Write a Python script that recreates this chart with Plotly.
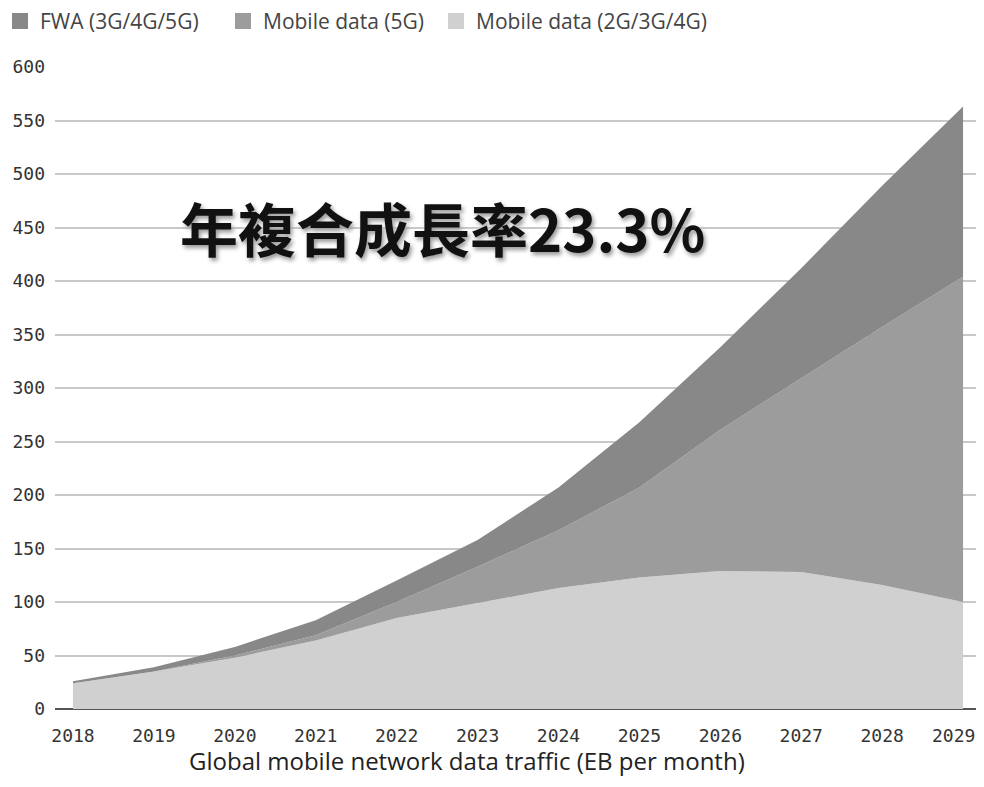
import plotly.graph_objects as go

years = [2018, 2019, 2020, 2021, 2022, 2023, 2024, 2025, 2026, 2027, 2028, 2029]
mobile_legacy = [24, 35, 48, 64, 85, 99, 113, 123, 129, 128, 116, 100]
mobile_5g = [0, 0, 2, 5, 15, 34, 54, 84, 132, 181, 241, 304]
fwa = [2, 4, 8, 14, 20, 25, 40, 61, 77, 103, 132, 159]

series_names = ["FWA (3G/4G/5G)", "Mobile data (5G)", "Mobile data (2G/3G/4G)"]
series_colors = ["#888888", "#9c9c9c", "#d0d0d0"]

y_ticks = list(range(0, 601, 50))
x_ticktext = [str(y) for y in years]

tick_font = dict(family="DejaVu Sans Mono, monospace", size=18, color="#333")

fig = go.Figure()
for vals, name, col in [(mobile_legacy, series_names[2], series_colors[2]),
                        (mobile_5g, series_names[1], series_colors[1]),
                        (fwa, series_names[0], series_colors[0])]:
    fig.add_trace(go.Scatter(x=years, y=vals, name=name, stackgroup="one", mode="none",
                             fillcolor=col, line=dict(width=0), showlegend=False))

# legend entries with square swatches, each in its own legend for positioning
legend_ids = ["legend", "legend2", "legend3"]
for name, col, lid in zip(series_names, series_colors, legend_ids):
    fig.add_trace(go.Scatter(x=[None], y=[None], name=name, mode="markers", legend=lid,
                             marker=dict(symbol="square", size=19, color=col)))

legend_font = dict(family="Open Sans, sans-serif", size=21, color="#444")
legend_common = dict(orientation="h", y=1.103, xref="paper", yref="paper",
                     xanchor="left", yanchor="top", font=legend_font, itemwidth=30,
                     bgcolor="rgba(0,0,0,0)")

fig.update_layout(
    width=968, height=771,
    margin=dict(l=47, r=0, t=59, b=70, autoexpand=False),
    plot_bgcolor="white", paper_bgcolor="white",
    showlegend=True,
    legend=dict(x=-0.0597, **legend_common),
    legend2=dict(x=0.1824, **legend_common),
    legend3=dict(x=0.4137, **legend_common),
    xaxis=dict(range=[2017.778, 2029.16], tickvals=years[:-1], ticktext=x_ticktext[:-1],
               showgrid=False, zeroline=False, showline=False, ticks="",
               tickfont=tick_font, ticklabelstandoff=14),
    yaxis=dict(range=[0, 600], tickvals=y_ticks, showgrid=True, gridcolor="#c8c8c8", gridwidth=1.5,
               zeroline=True, zerolinecolor="#555", zerolinewidth=2, ticks="",
               tickfont=tick_font, ticklabelstandoff=9),
)

# last year label, nudged inward so it stays inside the page (as in the reference)
fig.add_annotation(
    x=years[-1], y=-0.0405, xref="x", yref="paper", showarrow=False,
    xanchor="center", yanchor="middle", xshift=-10,
    text=x_ticktext[-1], font=tick_font,
)

fig.add_annotation(
    x=0.4473, y=-0.1075, xref="paper", yref="paper", showarrow=False,
    xanchor="center", yanchor="bottom", borderpad=0,
    text="Global mobile network data traffic (EB per month)",
    font=dict(family="Open Sans, sans-serif", size=24, color="#222"),
)

fig.add_annotation(
    x=0.4202, y=0.751, xref="paper", yref="paper", showarrow=False,
    xanchor="center", yanchor="middle",
    text="<b>年複合成長率23.3%</b>",
    font=dict(family="Noto Sans CJK TC, Noto Sans CJK SC, sans-serif", size=58, color="#111",
              shadow="2px 3px 4px #999, 0 0 3px white"),
)

fig.write_html("out.html")
